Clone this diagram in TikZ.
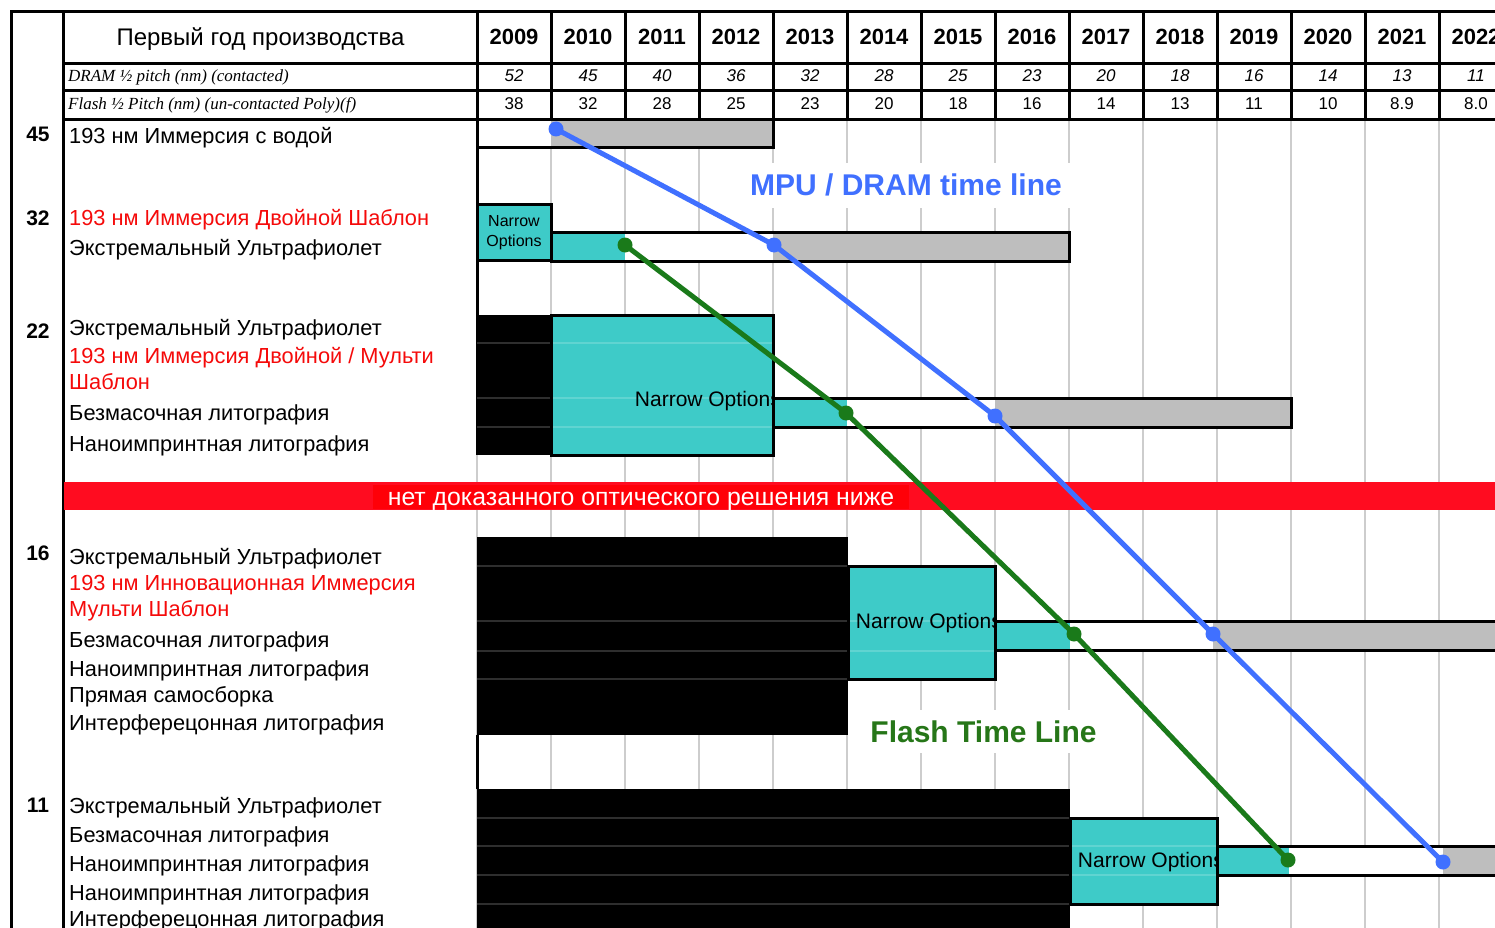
\documentclass[tikz,border=0pt]{standalone}
\usepackage{fontspec}
\setmainfont{Liberation Sans}
\newfontfamily\serifit{Liberation Serif}
\usetikzlibrary{positioning}
\definecolor{narrowcyan}{RGB}{62,203,200}
\definecolor{bargrey}{RGB}{190,190,190}
\definecolor{gridgrey}{RGB}{205,205,205}
\definecolor{mpublue}{RGB}{64,112,255}
\definecolor{flashgreen}{RGB}{26,122,26}
\definecolor{flashtext}{RGB}{38,118,24}
\definecolor{bandred}{RGB}{255,12,32}
\definecolor{boxred}{RGB}{255,0,8}
\definecolor{labelred}{RGB}{245,10,10}
\newcommand{\fsz}[1]{\fontsize{#1}{#1}\selectfont}
\tikzset{
  rule/.style={line width=3pt},
  gridline/.style={gridgrey, line width=2.5pt},
  bar/.style={line width=3pt},
  rowtext/.style={anchor=base west, inner sep=0pt, font=\fsz{21.8}},
  rownum/.style={anchor=base, inner sep=0pt, font=\bfseries\fsz{21}},
  yeartext/.style={anchor=base, inner sep=0pt, font=\bfseries\fsz{22}},
  pitchval/.style={anchor=base, inner sep=0pt, font=\fsz{17}},
  pitchtext/.style={anchor=base west, inner sep=0pt, font=\serifit\itshape\fsz{17}},
  narrowtext/.style={anchor=base east, inner sep=0pt, font=\fsz{21}},
  rowline/.style={white, opacity=0.18, line width=1.5pt},
  timeline/.style={line width=5pt},
  timetext/.style={anchor=base, fill=white, inner xsep=7pt, inner ysep=12pt, text height=21pt, text depth=0pt, font=\bfseries\fsz{#1}},
  timetext/.default=28
}
\begin{document}
\begin{tikzpicture}[x=1pt, y=-1pt]
\useasboundingbox (0,0) rectangle (1495,928);
\clip (0,0) rectangle (1495,928);
\fill[white] (0,0) rectangle (1495,928);
\foreach \k in {0,...,13} \draw[gridline] (477+74*\k,120) -- (477+74*\k,928);

\draw[rule] (10,12) -- (1500,12);
\draw[rule] (11.5,12) -- (11.5,928);
\draw[rule] (63.5,12) -- (63.5,928);
\foreach \y in {63.5,91,120} \draw[rule] (63.5,\y) -- (1500,\y);
\foreach \k in {0,...,14} \draw[rule] (477+74*\k,12) -- (477+74*\k,120);
\draw[rule] (477,120) -- (477,455);
\draw[rule] (477,735) -- (477,789);

\node[anchor=base, inner sep=0pt, font=\fsz{24}] (head) at (260.5,46) {Первый год производства};
\node[pitchtext] (dram) at (68,82) {DRAM ½ pitch (nm) (contacted)};
\node[pitchtext] (flash) at (68,110) {Flash ½ Pitch (nm) (un-contacted Poly)(f)};
\foreach \yr [count=\k from 0] in {2009,...,2022}
  \node[yeartext] (y\yr) at (514+74*\k,45) {\yr};
\foreach \v [count=\k from 0] in {52,45,40,36,32,28,25,23,20,18,16,14,13,11}
  \node[pitchval, font=\itshape\fsz{17}] (d\k) at (514+74*\k,82) {\v};
\foreach \v [count=\k from 0] in {38,32,28,25,23,20,18,16,14,13,11,10,8.9,8.0}
  \node[pitchval] (f\k) at (514+74*\k,110) {\v};

\foreach \n/\y in {45/142,32/225,22/338,16/560,11/812}
  \node[rownum] (n\n) at (38,\y) {\n};
\foreach \y/\t/\c [count=\i] in {
  144/193 нм Иммерсия с водой/black,
  225/193 нм Иммерсия Двойной Шаблон/labelred,
  255/Экстремальный Ультрафиолет/black,
  335/Экстремальный Ультрафиолет/black,
  363/{193 нм Иммерсия Двойной / Мульти}/labelred,
  389/Шаблон/labelred,
  420/Безмасочная литография/black,
  451/Наноимпринтная литография/black,
  564/Экстремальный Ультрафиолет/black,
  590/193 нм Инновационная Иммерсия/labelred,
  616/Мульти Шаблон/labelred,
  647/Безмасочная литография/black,
  676/Наноимпринтная литография/black,
  702/Прямая самосборка/black,
  730/Интерферецонная литография/black,
  813/Экстремальный Ультрафиолет/black,
  842/Безмасочная литография/black,
  871/Наноимпринтная литография/black,
  900/Наноимпринтная литография/black,
  926/Интерферецонная литография/black}
  \node[rowtext, text=\c] (t\i) at (69,\y) {\t};

\fill[white] (477,120) rectangle (551,148);
\fill[bargrey] (551,120) rectangle (773,148);
\draw[bar] (477,120) rectangle (773,148);
\foreach \y/\a/\b/\c/\d in {232/551/625/773/1069, 398/773/847/995/1291, 621/995/1070/1213/1510, 846/1217/1289/1443/1510}{
  \fill[narrowcyan] (\a,\y) rectangle (\b,\y+29);
  \fill[white] (\b,\y) rectangle (\c,\y+29);
  \fill[bargrey] (\c,\y) rectangle (\d,\y+29);
  \draw[bar] (\a,\y) rectangle (\d,\y+29);
}

\filldraw[bar, fill=narrowcyan] (477,204) rectangle (551,260);
\node[align=center, inner sep=0pt, font=\fontsize{16}{20}\selectfont] (nar32) at (514,233) {Narrow\\Options};

\fill[black] (477,315) rectangle (551,455);
\fill[narrowcyan] (551,315) rectangle (773,455);
\foreach \y in {343,398,427} \draw[rowline] (477,\y) -- (773,\y);
\begin{scope}
\clip (551,315) rectangle (773,455);
\node[narrowtext] (nar22) at (781,406) {Narrow Options};
\end{scope}
\draw[bar] (551,315) rectangle (773,455);

\fill[black] (477,537) rectangle (848,735);
\fill[narrowcyan] (848,566) rectangle (995,679);
\foreach \y in {566,621,651,679} \draw[rowline] (477,\y) -- (995,\y);
\begin{scope}
\clip (848,566) rectangle (995,679);
\node[narrowtext] (nar16) at (1002,628) {Narrow Options};
\end{scope}
\draw[bar] (848,566) rectangle (995,679);

\fill[black] (477,789) rectangle (1070,940);
\fill[narrowcyan] (1070,818) rectangle (1217,904);
\foreach \y in {818,846,875,904} \draw[rowline] (477,\y) -- (1217,\y);
\begin{scope}
\clip (1070,818) rectangle (1217,904);
\node[narrowtext] (nar11) at (1224,867) {Narrow Options};
\end{scope}
\draw[bar] (1070,818) rectangle (1217,904);

\fill[bandred] (63.5,482) rectangle (1500,510);
\node[anchor=base, fill=boxred, text=white, inner xsep=15pt, inner ysep=1pt, text height=19pt, text depth=3pt, font=\fsz{24.8}] (noopt) at (641,505) {нет доказанного оптического решения ниже};

\node[timetext=30, text=mpublue, inner xsep=8pt] (mputxt) at (906,196) {MPU / DRAM time line};
\node[timetext=30, text=flashtext, inner ysep=11pt] (flashtxt) at (983.5,742) {Flash Time Line};

\coordinate (m1) at (556,129);
\coordinate (m2) at (774,245);
\coordinate (m3) at (995,416);
\coordinate (m4) at (1213,634);
\coordinate (m5) at (1443,862);
\coordinate (g1) at (625,245);
\coordinate (g2) at (846,413);
\coordinate (g3) at (1074,634);
\coordinate (g4) at (1288,860);
\draw[timeline, mpublue] (m1) -- (m2) -- (m3) -- (m4) -- (m5);
\draw[timeline, flashgreen] (g1) -- (g2) -- (g3) -- (g4);
\foreach \i in {1,...,5} \fill[mpublue] (m\i) circle (7.5);
\foreach \i in {1,...,4} \fill[flashgreen] (g\i) circle (7.5);
\end{tikzpicture}
\end{document}
